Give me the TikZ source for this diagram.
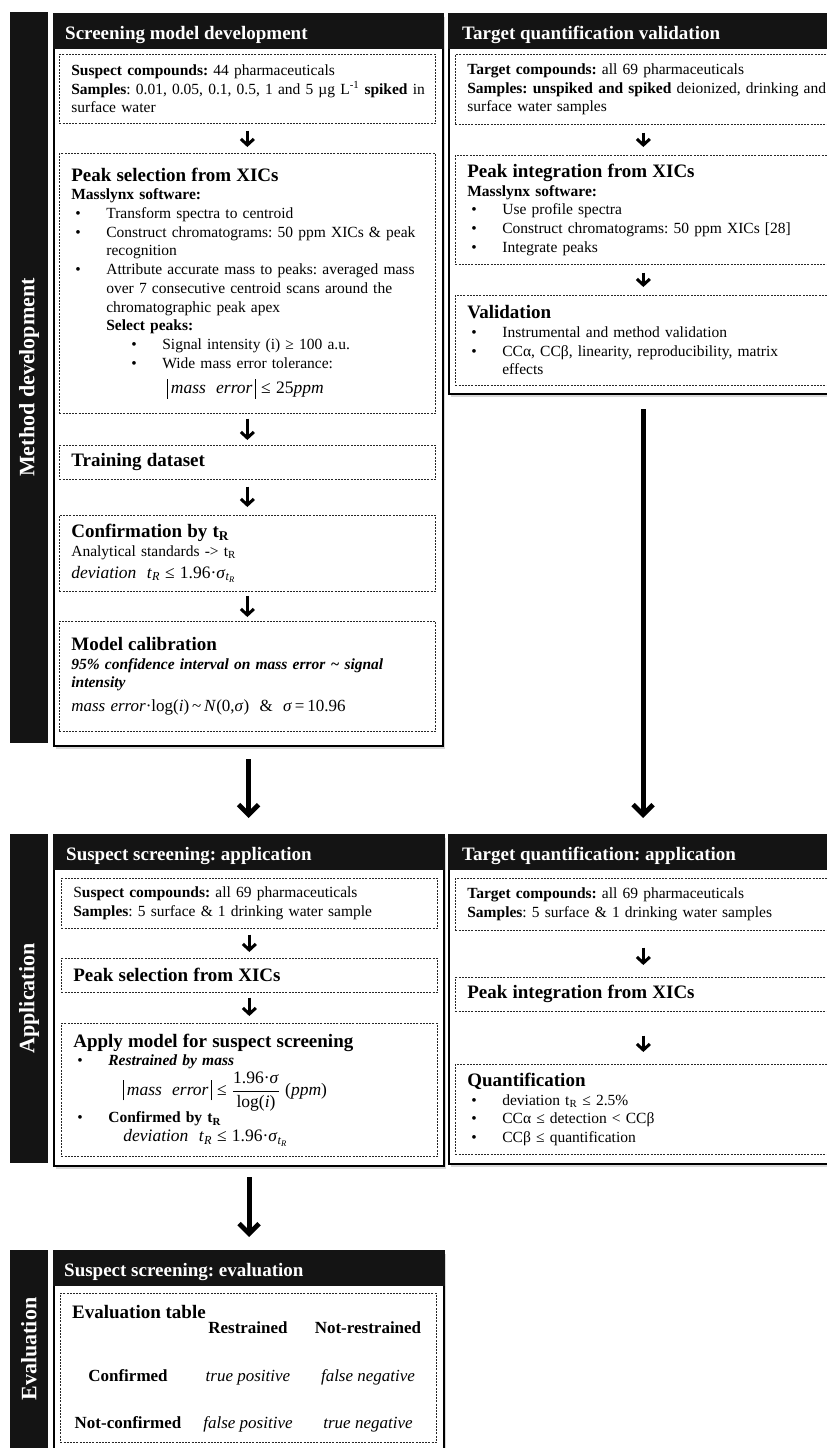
\documentclass[tikz,border=0pt]{standalone}
\usepackage{fontspec}
\setmainfont{Liberation Serif}
\usepackage{amsmath}
\usetikzlibrary{arrows.meta,shadows}

\frenchspacing
\newcommand{\bodyfont}{\fontsize{15.5}{18.7}\selectfont}
\newcommand{\subhd}{\fontsize{19}{18.7}\selectfont\bfseries}
\newcommand{\eqsize}{\fontsize{17.5}{18.7}\selectfont}
\newcommand{\bul}{\hspace*{4pt}\makebox[31pt][l]{•}}
\newcommand{\subbul}{\hspace*{60pt}\makebox[31pt][l]{•}}
\newcommand{\absbar}{\rule[-5pt]{.6pt}{20pt}}
\newcommand{\tR}{\textit{t}\textsubscript{\textit{R}}}
\newcommand{\sigtR}{\textit{σ}\textsubscript{\textit{t}\textsubscript{\textit{R}}}}
\newcommand{\fullline}[1]{\mbox{#1}}

\begin{document}
\begin{tikzpicture}%
	[x=1pt, y=-1pt,
	panel/.style={draw=black, line width=2.2pt, fill=white, anchor=north west,
		drop shadow={shadow xshift=1.5pt, shadow yshift=-2.5pt, opacity=.3}},
	hdr/.style={fill=black!92},
	hdtext/.style={text=white, inner sep=0pt, anchor=base west, font=\fontsize{19}{22}\selectfont\bfseries},
	side/.style={fill=black!92, text=white, rotate=90, minimum height=38pt, inner sep=0pt, font=\fontsize{22}{24}\selectfont\bfseries},
	stage/.style={draw=black!85, line width=.7pt, dash pattern=on 2pt off 1.2pt, anchor=north west,
		inner xsep=12pt, inner ysep=0pt, text width=352pt, align=left, font=\bodyfont},
	tblhd/.style={inner sep=0pt, anchor=base, font=\fontsize{17}{18}\selectfont\bfseries},
	tblit/.style={inner sep=0pt, anchor=base, font=\fontsize{17}{18}\selectfont\itshape},
	flow/.style={line width=3pt, -{Straight Barb[length=6pt,width=13pt]}},
	bigflow/.style={line width=4.8pt, -{Straight Barb[length=10pt,width=20pt]}}]
%
\useasboundingbox (0,0) rectangle (827,1448);
\fill[white] (0,0) rectangle (827,1448);
\clip (0,0) rectangle (827,1448);
%%
%% Side bars
%%
\node[side, minimum width=731pt] (devside) at (29,377.5) {Method development};
\node[side, minimum width=329pt] (appside) at (29,998.5) {Application};
\node[side, minimum width=198pt] (evside) at (29,1349) {Evaluation};
%%
%% Panels and their headers
%%
\node[panel, minimum width=389pt, minimum height=732pt] (dev) at (53,13) {};
\node[panel, minimum width=388pt, minimum height=380pt] (val) at (448,13) {};
\node[panel, minimum width=390pt, minimum height=331pt] (app) at (53,834) {};
\node[panel, minimum width=388pt, minimum height=329pt] (appr) at (448,834) {};
\node[panel, minimum width=390pt, minimum height=220pt] (ev) at (53,1250) {};
\foreach \p/\ttl/\dx in {dev/Screening model development/12, val/Target quantification validation/14,
	app/Suspect screening: application/13, appr/Target quantification: application/14,
	ev/Suspect screening: evaluation/11}{
	\fill[hdr] (\p.north west) rectangle ([yshift=-36pt]\p.north east);
	\node[hdtext] (\p-title) at ([xshift=\dx pt,yshift=-26pt]\p.north west) {\ttl};
}
%%
%% Screening model development
%%
\node[stage, minimum height=69pt] (dv1) at (59,54)
	{\textbf{Suspect compounds:} 44 pharmaceuticals\\
	\fullline{\textbf{Samples}: 0.01, 0.05, 0.1, 0.5, 1 and 5 µg L\textsuperscript{-1} \textbf{spiked} in}\\
	surface water};
\node[stage, minimum height=260pt] (dv2) at (59,153)
	{{\subhd Peak selection from XICs}\\
	\textbf{Masslynx software:}\\
	\bul Transform spectra to centroid\\
	\bul \fullline{Construct chromatograms: 50 ppm XICs \& peak}\\
	\hspace*{35pt}recognition\\
	\bul \fullline{Attribute accurate mass to peaks: averaged mass}\\
	\hspace*{35pt}over 7 consecutive centroid scans around the\\
	\hspace*{35pt}chromatographic peak apex\\
	\hspace*{35pt}\textbf{Select peaks:}\\
	\subbul Signal intensity (i) ≥ 100 a.u.\\
	\subbul Wide mass error tolerance:\\[7pt]
	\hspace*{96pt}{\eqsize\absbar\,\textit{mass\ \ error}\,\absbar\ ≤ 25\textit{ppm}}};
\node[stage, minimum height=34pt] (dv3) at (59,445) {{\subhd Training dataset}};
\node[stage, minimum height=76pt] (dv4) at (59,515)
	{{\subhd Confirmation by t\textsubscript{R}}\\
	Analytical standards -> t\textsubscript{R}\\[3pt]
	{\eqsize\textit{deviation}\ \ \tR\ ≤ 1.96·\sigtR}};
\node[stage, minimum height=110pt] (dv5) at (59,621)
	{{\subhd Model calibration}\\
	\fullline{\textbf{\textit{95\% confidence interval on mass error \textasciitilde\ signal}}}\\
	\textbf{\textit{intensity}}\\[5pt]
	{\fontsize{17}{18.7}\selectfont\textit{mass\ error}·log(\textit{i})\,\textasciitilde\,\textit{N}(0,\textit{σ})\ \ \&\ \ \textit{σ}\,=\,10.96}};
%%
%% Target quantification validation
%%
\node[stage, minimum height=70pt] (vl1) at (455,54)
	{\textbf{Target compounds:} all 69 pharmaceuticals\\
	\fullline{\textbf{Samples: unspiked and spiked} deionized, drinking and}\\
	surface water samples};
\node[stage, minimum height=109pt] (vl2) at (455,155)
	{{\subhd Peak integration from XICs}\\
	\textbf{Masslynx software:}\\
	\bul Use profile spectra\\
	\bul Construct chromatograms: 50 ppm XICs [28]\\
	\bul Integrate peaks};
\node[stage, minimum height=90pt] (vl3) at (455,295)
	{{\subhd Validation}\\
	\bul Instrumental and method validation\\
	\bul \fullline{CCα, CCβ, linearity, reproducibility, matrix}\\
	\hspace*{35pt}effects};
%%
%% Suspect screening: application
%%
\node[stage, minimum height=50pt] (ap1) at (61,878)
	{S\textbf{uspect compounds:} all 69 pharmaceuticals\\
	\textbf{Samples}: 5 surface \& 1 drinking water sample};
\node[stage, minimum height=34pt] (ap2) at (61,958) {{\subhd Peak selection from XICs}};
\node[stage, minimum height=133pt] (ap3) at (61,1023)
	{{\subhd Apply model for suspect screening}\\
	\bul\textbf{\textit{Restrained by mass}}\\[2pt]
	\hspace*{50pt}{\eqsize\absbar\,\textit{mass\ \ error}\,\absbar\ ≤\ $\dfrac{\mbox{1.96·\textit{σ}}}{\mbox{log(\textit{i})}}$\ (\textit{ppm})}\\
	\bul\textbf{Confirmed by t\textsubscript{R}}\\
	\hspace*{50pt}{\eqsize\textit{deviation}\ \ \tR\ ≤ 1.96·\sigtR}};
%%
%% Target quantification: application
%%
\node[stage, minimum height=52pt] (aq1) at (455,878)
	{\textbf{Target compounds:} all 69 pharmaceuticals\\
	\textbf{Samples}: 5 surface \& 1 drinking water samples};
\node[stage, minimum height=34pt] (aq2) at (455,977) {{\subhd Peak integration from XICs}};
\node[stage, minimum height=90pt] (aq3) at (455,1064)
	{{\subhd Quantification}\\
	\bul deviation t\textsubscript{R} ≤ 2.5\%\\
	\bul CCα ≤ detection < CCβ\\
	\bul CCβ ≤ quantification};
%%
%% Suspect screening: evaluation
%%
\node[stage, minimum height=149pt] (ev1) at (60,1293) {};
\node[inner sep=0pt, anchor=base west, font=\subhd] (evhd) at (72,1318) {Evaluation table};
\node[tblhd] (rs) at (248,1333) {Restrained};
\node[tblhd] (nrs) at (368,1333) {Not-restrained};
\node[tblhd] (cf) at (128,1381) {Confirmed};
\node[tblhd] (ncf) at (128,1428) {Not-confirmed};
\node[tblit] (tp) at (248,1381) {true positive};
\node[tblit] (fn) at (368,1381) {false negative};
\node[tblit] (fp) at (248,1428) {false positive};
\node[tblit] (tn) at (368,1428) {true negative};
%%
%% Arrows
%%
\draw[flow, shorten <=7pt, shorten >=6pt] (dv1.south) -- (dv2.north);
\draw[flow, shorten <=5pt, shorten >=5pt] (dv2.south) -- (dv3.north);
\draw[flow, shorten <=7pt, shorten >=8pt] (dv3.south) -- (dv4.north);
\draw[flow, shorten <=4pt, shorten >=4pt] (dv4.south) -- (dv5.north);
\draw[flow, shorten <=8pt, shorten >=8pt] (vl1.south) -- (vl2.north);
\draw[flow, shorten <=8pt, shorten >=8pt] (vl2.south) -- (vl3.north);
\draw[flow, shorten <=6pt, shorten >=6pt] (ap1.south) -- (ap2.north);
\draw[flow, shorten <=5pt, shorten >=7pt] (ap2.south) -- (ap3.north);
\draw[flow, shorten <=17pt, shorten >=12pt] (aq1.south) -- (aq2.north);
\draw[flow, shorten <=24pt, shorten >=12pt] (aq2.south) -- (aq3.north);
\draw[bigflow, shorten <=12pt, shorten >=16pt] (dev.south) -- (dev.south |- app.north);
\draw[bigflow, shorten <=14pt, shorten >=16pt] (val.south) -- (val.south |- appr.north);
\draw[bigflow, shorten <=10pt, shorten >=13pt] (app.south) -- (app.south |- ev.north);

\end{tikzpicture}
\end{document}
